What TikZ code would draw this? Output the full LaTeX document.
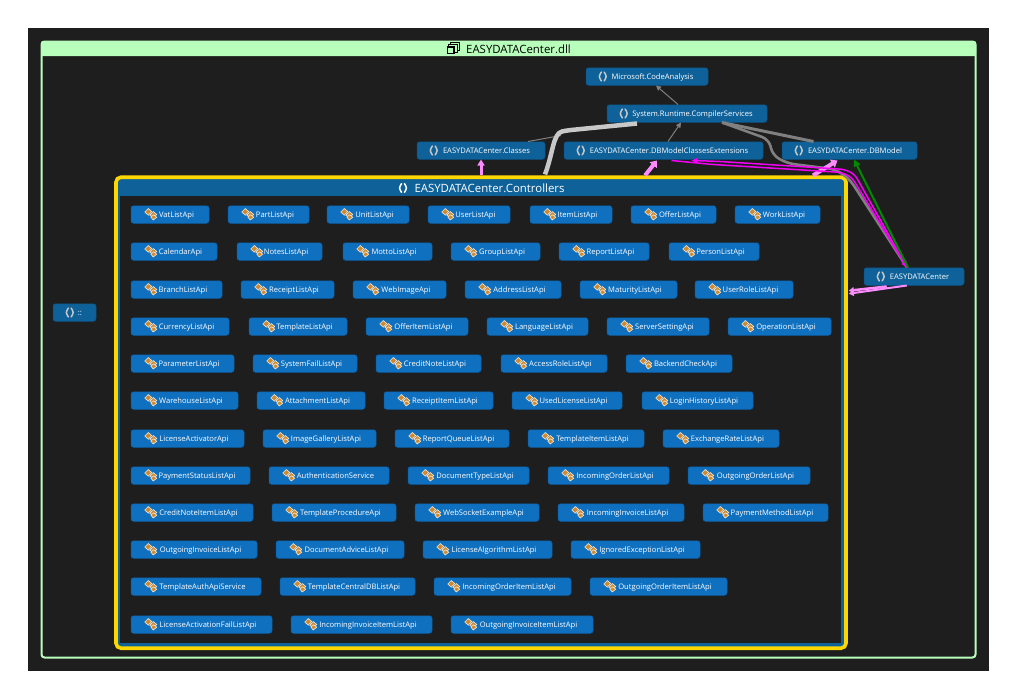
\documentclass[tikz,border=0pt]{standalone}
\usepackage{fontspec}
\setmainfont{Open Sans}
\usetikzlibrary{arrows.meta,calc}
\definecolor{canvas}{HTML}{1E1E1E}
\definecolor{nsblue}{HTML}{0E6199}
\definecolor{clsblue}{HTML}{0F70C0}
\definecolor{mint}{HTML}{B9FFBC}
\definecolor{gold}{HTML}{FFD700}
\definecolor{pinkedge}{HTML}{FF8CFF}
\definecolor{magedge}{HTML}{F400F4}
\definecolor{greenedge}{HTML}{008A00}
\definecolor{grayedge}{HTML}{808080}
\definecolor{lightedge}{HTML}{C8C8C8}
\definecolor{iconorange}{HTML}{D08A2E}
\definecolor{iconpale}{HTML}{F2E6D6}
\tikzset{
  x=1pt,y=-1pt,
  boxbase/.style={anchor=center,inner sep=0pt,text=white,font=\fontsize{7.6}{8}\selectfont,rounded corners=2.5pt,minimum height=17.5pt,text height=5.5pt,text depth=0pt},
  clsbox/.style={boxbase,fill=clsblue,draw=clsblue!85!black,line width=.5pt},
  nsbox/.style={boxbase,fill=nsblue,draw=nsblue!85!black,line width=.5pt},
  edgebase/.style={line join=round,rounded corners=5pt},
  graythin/.style={edgebase,draw=grayedge,line width=1pt,-{Triangle[length=5pt,width=5pt]}},
  graythick/.style={edgebase,draw=grayedge,line width=2.6pt},
  lightthick/.style={edgebase,draw=lightedge,line width=4.5pt},
  pinkthick/.style={edgebase,draw=pinkedge,line width=4pt,-{Triangle[length=6pt,width=9pt]}},
  magthin/.style={edgebase,draw=magedge,line width=1.5pt,-{Triangle[length=6pt,width=5.5pt]}},
  greenthin/.style={edgebase,draw=greenedge,line width=2pt,-{Triangle[length=7pt,width=7pt]}},
  iconpart/.style={fill=iconorange,draw=iconpale,line width=.6pt},
  pics/clsicon/.style={code={
    \draw[iconpart] (-6,-2) -- (-2.5,-5.5) -- (1,-2.5) -- (-2.5,1.2) -- cycle;
    \draw[iconpart] (-1,1.2) -- (2.5,-2.5) -- (6,0.5) -- (3,3.5) -- cycle;
    \draw[iconpart] (0,3) -- (3,0.8) -- (6,3.2) -- (2.5,6) -- cycle;
  }},
  pics/nsicon/.style={code={
    \draw[#1,line width=1.5pt,line cap=round] (-1.4,-4.4) .. controls (-3.2,-4.2) and (-2,-1) .. (-3.4,0) .. controls (-2,1) and (-3.2,4.2) .. (-1.4,4.4);
    \draw[#1,line width=1.5pt,line cap=round] (1.4,-4.4) .. controls (3.2,-4.2) and (2,-1) .. (3.4,0) .. controls (2,1) and (3.2,4.2) .. (1.4,4.4);
  }},
  pics/dllicon/.style={code={
    \draw[black,line width=.9pt] (-2.5,-6) rectangle (6,2);
    \fill[mint] (-4.5,-4) rectangle (4,4.5);
    \draw[black,line width=.9pt] (-4.5,-4) rectangle (4,4.5);
    \fill[mint] (-6.5,-2) rectangle (2,6.5);
    \draw[black,line width=1.8pt] (-5.5,-1) rectangle (1,5.5);
  }}
}
% #1 text, #2 left, #3 right, #4 centre y
\newcommand{\apinode}[4]{%
  \node[clsbox,minimum width={#3-#2}] (#1) at ({(#2+#3)/2},{#4+.5}) {\hspace*{13pt}#1};
  \pic at ($(#1.west)+(20,-.5)$) {clsicon};
}
\newcommand{\nsnode}[5]{%
  \node[nsbox,minimum width={#3-#2}] (#5) at ({(#2+#3)/2},{#4+.5}) {\hspace*{11pt}#1};
  \pic at ($(#5.west)+(17,0)$) {nsicon=lightedge};
}
\begin{document}
\begin{tikzpicture}
\useasboundingbox (0,0) rectangle (1017,699);
\fill[white] (0,0) rectangle (1017,699);
\fill[canvas] (28,28) rectangle (989,671);
% assembly container
\node[draw=mint,fill=canvas,line width=2pt,rounded corners=3pt,minimum width=934pt,minimum height=616pt,inner sep=0pt] (dll) at (508.5,349.5) {};
\fill[mint,rounded corners=2pt] (41,41) rectangle (976,56);
\node[font=\fontsize{11.4}{12}\selectfont,text=black,inner sep=0pt] (dlltitle) at (518.5,49) {EASYDATACenter.dll};
\pic at (453,48) {dllicon};
% controllers container
\node[draw=gold,fill=nsblue,line width=3.6pt,rounded corners=5pt,minimum width=730pt,minimum height=471pt,inner sep=0pt] (ctrl) at (481,412.7) {};
\fill[canvas] (120,196) rectangle (841,643);
\node[font=\fontsize{11.4}{12}\selectfont,text=white,inner sep=0pt] (ctrltitle) at (489.5,188) {EASYDATACenter.Controllers};
\pic at (403,188) {nsicon=white};
% outer namespaces
\nsnode{Microsoft.CodeAnalysis}{586}{708}{76}{ca}
\nsnode{System.Runtime.CompilerServices}{607}{767}{113}{cs}
\nsnode{EASYDATACenter.Classes}{417}{545}{150}{classes}
\nsnode{EASYDATACenter.DBModelClassesExtensions}{564}{763}{150}{ext}
\nsnode{EASYDATACenter.DBModel}{782}{917}{150}{dbm}
\nsnode{EASYDATACenter}{864}{964}{276}{edc}
\nsnode{::}{53}{96}{312}{root}
% classes
\apinode{VatListApi}{131}{209}{214}
\apinode{PartListApi}{228}{309}{214}
\apinode{UnitListApi}{327}{409}{214}
\apinode{UserListApi}{428}{510}{214}
\apinode{ItemListApi}{530}{612}{214}
\apinode{OfferListApi}{631}{716}{214}
\apinode{WorkListApi}{735}{820}{214}
\apinode{CalendarApi}{131}{217}{251}
\apinode{NotesListApi}{237}{322}{251}
\apinode{MottoListApi}{343}{432}{251}
\apinode{GroupListApi}{451}{540}{251}
\apinode{ReportListApi}{559}{649}{251}
\apinode{PersonListApi}{669}{759}{251}
\apinode{BranchListApi}{131}{222}{289}
\apinode{ReceiptListApi}{241}{334}{289}
\apinode{WebImageApi}{353}{446}{289}
\apinode{AddressListApi}{465}{561}{289}
\apinode{MaturityListApi}{580}{677}{289}
\apinode{UserRoleListApi}{695}{793}{289}
\apinode{CurrencyListApi}{131}{229}{326}
\apinode{TemplateListApi}{249}{347}{326}
\apinode{OfferItemListApi}{366}{468}{326}
\apinode{LanguageListApi}{487}{588}{326}
\apinode{ServerSettingApi}{607}{709}{326}
\apinode{OperationListApi}{728}{831}{326}
\apinode{ParameterListApi}{131}{234}{363}
\apinode{SystemFailListApi}{253}{357}{363}
\apinode{CreditNoteListApi}{376}{481}{363}
\apinode{AccessRoleListApi}{501}{607}{363}
\apinode{BackendCheckApi}{626}{732}{363}
\apinode{WarehouseListApi}{131}{238}{400}
\apinode{AttachmentListApi}{257}{365}{400}
\apinode{ReceiptItemListApi}{384}{493}{400}
\apinode{UsedLicenseListApi}{512}{622}{400}
\apinode{LoginHistoryListApi}{642}{753}{400}
\apinode{LicenseActivatorApi}{131}{244}{438}
\apinode{ImageGalleryListApi}{263}{376}{438}
\apinode{ReportQueueListApi}{395}{509}{438}
\apinode{TemplateItemListApi}{528}{644}{438}
\apinode{ExchangeRateListApi}{663}{779}{438}
\apinode{PaymentStatusListApi}{131}{250}{475}
\apinode{AuthenticationService}{269}{389}{475}
\apinode{DocumentTypeListApi}{408}{529}{475}
\apinode{IncomingOrderListApi}{548}{669}{475}
\apinode{OutgoingOrderListApi}{688}{810}{475}
\apinode{CreditNoteItemListApi}{131}{253}{512}
\apinode{TemplateProcedureApi}{272}{396}{512}
\apinode{WebSocketExampleApi}{415}{539}{512}
\apinode{IncomingInvoiceListApi}{558}{684}{512}
\apinode{PaymentMethodListApi}{703}{828}{512}
\apinode{OutgoingInvoiceListApi}{131}{257}{549}
\apinode{DocumentAdviceListApi}{276}{404}{549}
\apinode{LicenseAlgorithmListApi}{423}{552}{549}
\apinode{IgnoredExceptionListApi}{571}{700}{549}
\apinode{TemplateAuthApiService}{131}{261}{586}
\apinode{TemplateCentralDBListApi}{280}{415}{586}
\apinode{IncomingOrderItemListApi}{434}{571}{586}
\apinode{OutgoingOrderItemListApi}{590}{727}{586}
\apinode{LicenseActivationFailListApi}{131}{272}{624}
\apinode{IncomingInvoiceItemListApi}{291}{432}{624}
\apinode{OutgoingInvoiceItemListApi}{451}{593}{624}
% connectors
\draw[graythin] ($(cs.north)+(-9,0)$) -- ($(ca.south)+(9,0)$);
\draw[graythin] ($(ext.north)+(4.5,0)$) -- ($(cs.south)+(-6,0)$);
\draw[draw=grayedge,line width=1pt] ($(classes.north)+(47,0)$) -- ($(classes.north)+(80,-6)$);
\draw[lightthick] ($(ctrl.north)+(64,-1)$) .. controls ($(ctrl.north)+(72,-22)$) and ($(ctrl.north)+(72,-42)$) .. ($(ctrl.north)+(86,-45)$) -- ($(cs.south)+(-50,1)$);
\draw[graythick,line width=3pt] ($(dbm.north)+(-36,0)$) -- ($(cs.south)+(35,0)$);
\draw[graythick,rounded corners=7pt] ($(edc.north)+(-7,0)$)
  -- ($(ctrl.north east)+(2,4)$) -- ($(ctrl.north east)+(-12,-6)$)
  -- ($(ctrl.north east)+(-60,-12)$) -- ($(ctrl.north east)+(-75,-20)$)
  -- ($(ctrl.north east)+(-79,-36)$) -- ($(cs.south)+(35,0)$);
\draw[pinkthick,line width=3pt,-{Triangle[length=6pt,width=7pt]}] (ctrl.north -| classes.south) -- (classes.south);
\draw[pinkthick] ($(ctrl.north)+(164,0)$) -- ($(ext.south)+(-6.5,1)$);
\draw[pinkthick] ($(ctrl.north)+(332,0)$) -- ($(dbm.south)+(-12,1)$);
\draw[magthin] ($(edc.north)+(-7,0)$) -- ($(ctrl.north east)+(7,-1)$) -- ($(ctrl.north east)+(-3,-6)$) -- ($(ctrl.north east)+(-129,-14)$) -- ($(ext.south)+(28,1)$);
\draw[magthin] ($(ext.south)+(8,1)$) -- ($(ctrl.north east)+(-136,-11)$) -- ($(ctrl.north east)+(-6,-3)$) -- ($(ctrl.north east)+(4,2)$) -- ($(edc.north)+(-7,0)$);
\draw[greenthin] ($(edc.north)+(-6,0)$) -- ($(dbm.south)+(4.5,0)$);
\draw[pinkthick,line width=2pt,rounded corners=0pt,-{Triangle[length=5pt,width=6pt]}] ($(edc.south west)+(43,0)$) -- ($(ctrl.east)+(1,-119)$);
\draw[pinkthick,line width=2.5pt,rounded corners=0pt,-{Triangle[length=5pt,width=6pt]}] ($(edc.south west)+(23,1)$) -- ($(ctrl.east)+(1,-122)$);
\end{tikzpicture}
\end{document}
